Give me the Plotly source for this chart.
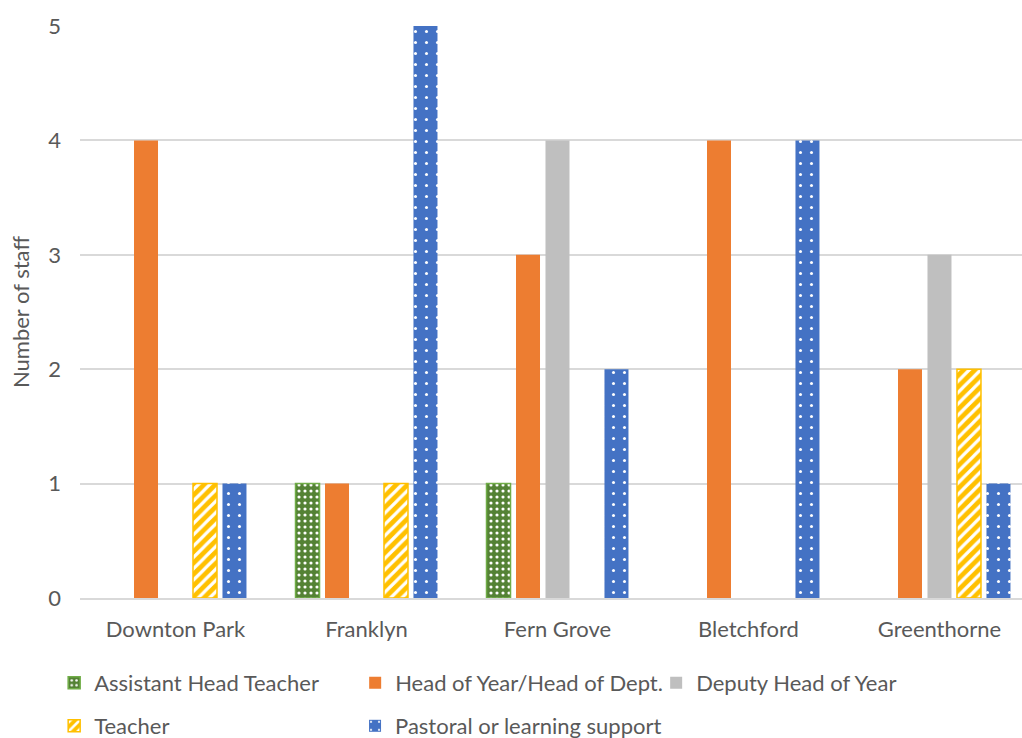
import plotly.graph_objects as go

schools = ["Downton Park", "Franklyn", "Fern Grove", "Bletchford", "Greenthorne"]

assistant_head = [0, 1, 1, 0, 0]
head_of_year = [4, 1, 3, 4, 2]
deputy_head = [0, 0, 4, 0, 3]
teacher = [1, 1, 0, 0, 2]
pastoral = [1, 5, 2, 4, 1]

y_ticks = [0, 1, 2, 3, 4, 5]

FONT = "Lato, 'Open Sans', sans-serif"
TEXT = "#595959"
GRID = "#D9D9D9"


def nz(vals):
    # empty slots are left out rather than drawn as zero-height bars
    return [v if v else None for v in vals]


series = [
    dict(name="Assistant Head Teacher", y=assistant_head, legend="legend",
         marker=dict(color="#548235", line=dict(color="#70AD47", width=1.5),
                     pattern=dict(shape=".", fgcolor="white", bgcolor="#548235",
                                  size=6, solidity=0.22, fillmode="replace"))),
    dict(name="Head of Year/Head of Dept.", y=head_of_year, legend="legend",
         marker=dict(color="#ED7D31", line=dict(color="#ED7D31", width=0))),
    dict(name="Deputy Head of Year", y=deputy_head, legend="legend",
         marker=dict(color="#BFBFBF", line=dict(color="#BFBFBF", width=0))),
    dict(name="Teacher", y=teacher, legend="legend2",
         marker=dict(color="#FFC000", line=dict(color="#FFC000", width=1.5),
                     pattern=dict(shape="/", fgcolor="white", bgcolor="#FFC000",
                                  size=8, solidity=0.4, fillmode="replace"))),
    dict(name="Pastoral or learning support", y=pastoral, legend="legend3",
         marker=dict(color="#4472C4", line=dict(color="#4472C4", width=0),
                     pattern=dict(shape=".", fgcolor="white", bgcolor="#4472C4",
                                  size=11, solidity=0.06, fillmode="replace"))),
]

fig = go.Figure()
for s in series:
    fig.add_trace(go.Bar(x=schools, y=nz(s["y"]), name=s["name"],
                         marker=s["marker"], legend=s["legend"]))

legend_common = dict(
    orientation="h",
    xref="container", yref="container",
    xanchor="left", yanchor="middle",
    x=0.053,
    entrywidth=256,
    font=dict(family=FONT, size=22, color=TEXT),
    bgcolor="rgba(0,0,0,0)",
    traceorder="normal",
)

row1_y = 1 - 683 / 738
row2_y = 1 - 726 / 738

fig.update_layout(
    width=1022, height=738,
    margin=dict(l=80, r=0, t=26, b=140),
    paper_bgcolor="white", plot_bgcolor="white",
    barmode="group", bargap=0.228, bargroupgap=0.186,
    font=dict(family=FONT, size=22, color=TEXT),
    showlegend=True,
    legend=dict(legend_common, y=row1_y),
    legend2=dict(legend_common, y=row2_y),
    legend3=dict(legend_common, y=row2_y, x=0.3474, entrywidth=320),
    xaxis=dict(
        range=[-0.5, 4.432],
        showgrid=False, zeroline=False,
        showline=True, linecolor=GRID, linewidth=1.5,
        ticks="", ticklabelstandoff=11,
        tickfont=dict(family=FONT, size=22, color=TEXT),
    ),
    yaxis=dict(
        range=[0, 5],
        tickvals=y_ticks,
        showgrid=True, gridcolor=GRID, gridwidth=1.5,
        zeroline=False, showline=False,
        ticks="", ticklabelstandoff=18,
        tickfont=dict(family=FONT, size=22, color=TEXT),
        title=dict(text="Number of staff", standoff=12,
                   font=dict(family=FONT, size=22, color=TEXT)),
    ),
)

fig.write_html("out.html")
